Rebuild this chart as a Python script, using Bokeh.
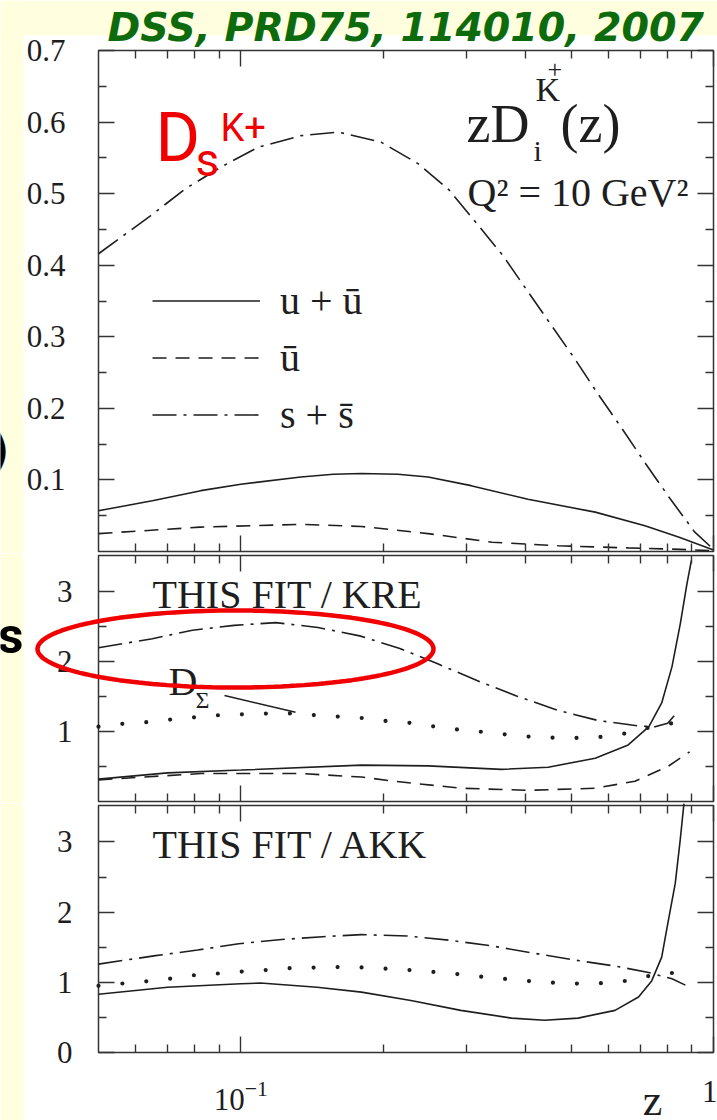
import math
from bokeh.plotting import figure
from bokeh.layouts import column
from bokeh.models import (Range1d, LogAxis, LinearAxis, FixedTicker, Label,
                          Legend, LegendItem, PolyAnnotation, BoxAnnotation)
from bokeh.embed import file_html
from bokeh.resources import INLINE

# ---------------- top panel: z D_i^{K+}(z), Q^2 = 10 GeV^2 ----------------
z_uu_top = [0.05, 0.065, 0.0823, 0.1, 0.134, 0.157, 0.18, 0.215, 0.249, 0.307,
            0.405, 0.562, 0.716, 0.846, 1.0]
uu_top = [0.057, 0.071, 0.085, 0.094, 0.104, 0.108, 0.109, 0.108, 0.104, 0.092,
          0.073, 0.055, 0.036, 0.020, 0.002]

z_ub_top = [0.05, 0.082, 0.134, 0.18, 0.249, 0.34, 0.47, 0.66, 0.85, 1.0]
ub_top = [0.025, 0.034, 0.038, 0.035, 0.025, 0.013, 0.008, 0.005, 0.003, 0.001]

z_ss_top = [0.05, 0.0644, 0.0764, 0.0907, 0.109, 0.134, 0.161, 0.198, 0.237,
            0.276, 0.315, 0.359, 0.403, 0.453, 0.509, 0.571, 0.640, 0.718,
            0.809, 0.913, 1.0]
ss_top = [0.416, 0.469, 0.507, 0.537, 0.565, 0.581, 0.586, 0.572, 0.542, 0.505,
          0.459, 0.413, 0.365, 0.317, 0.269, 0.219, 0.172, 0.123, 0.074, 0.027,
          0.003]

# ---------------- middle panel: ratio THIS FIT / KRE ----------------
z_uu_kre = [0.05, 0.070, 0.1, 0.18, 0.249, 0.356, 0.447, 0.562, 0.660, 0.730,
            0.777, 0.817, 0.851, 0.879, 0.898]
uu_kre = [0.32, 0.41, 0.45, 0.52, 0.51, 0.46, 0.49, 0.62, 0.81, 1.07, 1.41,
          1.93, 2.55, 3.12, 3.45]

z_ub_kre = [0.05, 0.0823, 0.134, 0.18, 0.211, 0.292, 0.405, 0.562, 0.682, 0.80,
            0.89]
ub_kre = [0.31, 0.40, 0.40, 0.35, 0.29, 0.19, 0.16, 0.19, 0.29, 0.50, 0.71]

z_ss_kre = [0.05, 0.065, 0.079, 0.0968, 0.1186, 0.1456, 0.1784, 0.217, 0.261,
            0.316, 0.383, 0.466, 0.569, 0.694, 0.752, 0.80, 0.829]
ss_kre = [2.20, 2.33, 2.45, 2.52, 2.56, 2.49, 2.37, 2.19, 1.97, 1.73, 1.51,
          1.31, 1.16, 1.08, 1.07, 1.12, 1.24]

z_sig_kre = [0.05, 0.0575, 0.0647, 0.0725, 0.0813, 0.0917, 0.1033, 0.1162,
             0.1308, 0.1466, 0.1648, 0.1856, 0.2087, 0.2342, 0.2633, 0.2960,
             0.3322, 0.3736, 0.4201, 0.4716, 0.5302, 0.5961, 0.6709, 0.740,
             0.85]
sig_kre = [1.07, 1.12, 1.14, 1.18, 1.21, 1.24, 1.25, 1.26, 1.26, 1.23, 1.21,
           1.19, 1.14, 1.12, 1.06, 1.02, 0.99, 0.95, 0.92, 0.91, 0.91, 0.93,
           0.99, 1.07, 1.14]

# ---------------- bottom panel: ratio THIS FIT / AKK ----------------
z_uu_akk = [0.05, 0.07, 0.1, 0.11, 0.145, 0.18, 0.229, 0.292, 0.374, 0.439,
            0.517, 0.619, 0.694, 0.740, 0.777, 0.80, 0.83, 0.85, 0.866]
uu_akk = [0.83, 0.93, 0.98, 0.99, 0.93, 0.86, 0.74, 0.60, 0.49, 0.46, 0.49,
          0.60, 0.79, 1.02, 1.36, 1.83, 2.41, 3.02, 3.55]

z_ss_akk = [0.05, 0.066, 0.081, 0.099, 0.122, 0.149, 0.18, 0.225, 0.276, 0.339,
            0.413, 0.506, 0.621, 0.729, 0.817, 0.872]
ss_akk = [1.26, 1.38, 1.46, 1.55, 1.61, 1.65, 1.68, 1.66, 1.60, 1.52, 1.42,
          1.32, 1.23, 1.14, 1.05, 0.96]

z_sig_akk = [0.05, 0.0575, 0.0647, 0.0725, 0.0813, 0.0917, 0.1033, 0.1162,
             0.1308, 0.1466, 0.1648, 0.1856, 0.2087, 0.2342, 0.2633, 0.2960,
             0.3322, 0.3736, 0.4201, 0.4716, 0.5302, 0.5961, 0.6709, 0.758,
             0.85]
sig_akk = [0.95, 0.99, 1.02, 1.06, 1.11, 1.13, 1.16, 1.18, 1.21, 1.21, 1.22,
           1.21, 1.19, 1.17, 1.14, 1.11, 1.07, 1.04, 1.01, 0.99, 0.98, 0.99,
           1.03, 1.12, 1.14]

# ---------------- axes ----------------
x_major = [0.1, 1]
x_minor = [0.06, 0.07, 0.08, 0.09, 0.2, 0.3, 0.4, 0.5, 0.6, 0.7, 0.8, 0.9]
y_top_major = [0.1, 0.2, 0.3, 0.4, 0.5, 0.6, 0.7]
y_top_minor = [0.05, 0.15, 0.25, 0.35, 0.45, 0.55, 0.65]
y_mid_major = [1, 2, 3]
y_bot_major = [0, 1, 2, 3]
y_ratio_minor = [0.5, 1.5, 2.5]
legend_labels = ["u + ū", "ū", "s + s̄"]

SERIF = "Liberation Serif"
INK = "#1e1e1e"
AXC = "#333333"
RED = "#f00000"
GREEN = "#0d6b0d"
CREAM = "#FFFFDF"
SOLID = dict(line_color=INK, line_width=1.6)
DASHED = dict(line_color=INK, line_width=1.6, line_dash="14 9")
DASHDOT = dict(line_color=INK, line_width=1.6, line_dash="24 7 3 7")
DOTTED = dict(line_color=INK, line_width=4.2, line_dash="0 24", line_cap="round")

Z_MIN, Z_MAX = 0.05, 1.0
BOX_L, BOX_R = 98, 713          # pixel columns of the plot box
PX_DEC = (BOX_R - BOX_L) / math.log10(Z_MAX / Z_MIN)
TOP_MAX = 0.7
R_MAX = 3.52
DROP = 0.4   # labels sit about 0.4 em lower than the requested baseline


def z_at(px):
    return Z_MIN * 10 ** ((px - BOX_L) / PX_DEC)


def v_top(py):
    return (551 - py) / 501 * TOP_MAX


def v_mid(py):
    return (801 - py) / 246 * R_MAX


def v_bot(py):
    return (1052 - py) / 247 * R_MAX


def style_axis(ax, ticks, minor, where, labels=False, standoff=0):
    ax.fixed_location = where
    ax.ticker = FixedTicker(ticks=ticks, minor_ticks=minor)
    ax.axis_line_color = None
    ax.major_tick_line_color = AXC
    ax.major_tick_line_width = 1.4
    ax.minor_tick_line_color = AXC
    ax.minor_tick_line_width = 1.4
    ax.major_tick_in = 16
    ax.major_tick_out = 0
    ax.minor_tick_in = 8
    ax.minor_tick_out = 0
    if labels:
        ax.major_label_text_font = SERIF
        ax.major_label_text_font_size = "31px"
        ax.major_label_text_color = INK
        ax.major_label_standoff = standoff
    else:
        # tick marks only, no numbers on this side
        ax.major_label_overrides = {t: "" for t in ticks}
        ax.major_label_text_font_size = "1px"
        ax.major_label_standoff = 0


def make_panel(height, vmap, y_canvas_top, y_canvas_bottom, box_top,
               yticks, yminor, y_standoff, x_labels):
    p = figure(width=717, height=height, x_axis_type="log",
               x_range=Range1d(z_at(0), z_at(717)),
               y_range=Range1d(vmap(y_canvas_bottom), vmap(y_canvas_top)),
               output_backend="svg", toolbar_location=None,
               min_border_left=0, min_border_right=0,
               min_border_top=0, min_border_bottom=0,
               border_fill_color=None, background_fill_color="white",
               outline_line_color=None)
    p.xgrid.visible = False
    p.ygrid.visible = False
    p.add_layout(LogAxis(), "above")
    p.add_layout(LinearAxis(), "right")
    for ax in p.below:
        style_axis(ax, x_major, x_minor, 0, x_labels, 28)
    for ax in p.above:
        style_axis(ax, x_major, x_minor, box_top)
    for ax in p.left:
        style_axis(ax, yticks, yminor, Z_MIN, True, y_standoff)
    for ax in p.right:
        style_axis(ax, yticks, yminor, Z_MAX)
    # cream margin strip on the far left of the page
    p.add_layout(BoxAnnotation(left=z_at(0), right=z_at(23),
                               bottom=vmap(y_canvas_bottom), top=vmap(y_canvas_top),
                               fill_color=CREAM, fill_alpha=1.0, line_alpha=0,
                               level="underlay"))
    # plot box
    p.quad(left=[Z_MIN], right=[Z_MAX], bottom=[0], top=[box_top],
           fill_color=None, line_color=AXC, line_width=1.5)
    return p


def put(p, vmap, px, py, text, size, font=SERIF, color=INK, style="normal",
        align="left", drop=DROP):
    p.add_layout(Label(x=z_at(px), y=vmap(py - drop * size), text=text,
                       text_font=font, text_font_size=f"{size}px",
                       text_color=color, text_font_style=style,
                       text_align=align, text_baseline="alphabetic"))


# ---------------- top panel ----------------
p1 = make_panel(553, v_top, 0, 553, TOP_MAX, y_top_major, y_top_minor,
                33, False)
# cream band behind the heading
p1.add_layout(BoxAnnotation(left=z_at(0), right=z_at(717),
                            bottom=v_top(35), top=v_top(0),
                            fill_color=CREAM, fill_alpha=1.0, line_alpha=0,
                            level="underlay"))
put(p1, v_top, 107, 36, "DSS, PRD75, 114010, 2007", 39.5, font="DejaVu Sans",
    color=GREEN, style="bold italic", drop=0.25)

r_uu = p1.line(z_uu_top, uu_top, **SOLID)
r_ub = p1.line(z_ub_top, ub_top, **DASHED)
r_ss = p1.line(z_ss_top, ss_top, **DASHDOT)

legend = Legend(items=[LegendItem(label=legend_labels[0], renderers=[r_uu]),
                       LegendItem(label=legend_labels[1], renderers=[r_ub]),
                       LegendItem(label=legend_labels[2], renderers=[r_ss])],
                location=(152, 110), glyph_width=108, glyph_height=57,
                label_height=57, label_standoff=20, spacing=0, padding=0,
                margin=0, label_text_font=SERIF, label_text_font_size="40px",
                label_text_color=INK, background_fill_alpha=0,
                border_line_alpha=0)
p1.add_layout(legend)

put(p1, v_top, 9, 468, ")", 46, font="DejaVu Sans", color="black",
    style="bold", align="right")

put(p1, v_top, 155, 165, "D", 68, font="Roboto", color=RED)
put(p1, v_top, 195, 178, "s", 46, font="Roboto", color=RED)
put(p1, v_top, 220, 143, "K+", 38, font="Roboto", color=RED)

put(p1, v_top, 466, 145, "zD", 54)
put(p1, v_top, 533, 162, "i", 30)
put(p1, v_top, 535, 103, "K", 34)
put(p1, v_top, 547, 79, "+", 26)
put(p1, v_top, 560, 145, "(z)", 54)
put(p1, v_top, 467, 208, "Q² = 10 GeV²", 40)

# ---------------- middle panel ----------------
p2 = make_panel(250, v_mid, 553, 803, R_MAX, y_mid_major, y_ratio_minor,
                26, False)
p2.line(z_uu_kre, uu_kre, **SOLID)
p2.line(z_ub_kre, ub_kre, **DASHED)
p2.line(z_ss_kre, ss_kre, **DASHDOT)
p2.line(z_sig_kre, sig_kre, **DOTTED)

put(p2, v_mid, 152, 610, "THIS FIT / KRE", 40)
put(p2, v_mid, 168, 697, "D", 40)
put(p2, v_mid, 195, 709, "Σ", 24)
p2.line([z_at(224), z_at(295)], [v_mid(695), v_mid(711.7)],
        line_color=INK, line_width=1.5)
put(p2, v_mid, 23, 655, "s", 50, font="Roboto", color="black",
    style="bold", align="right")

theta = [i * 2 * math.pi / 160 for i in range(161)]
lz_c = math.log10(z_at(235))
a_dec = 198 / PX_DEC
v_c = v_mid(648.5)
b_val = 38.5 / 246 * R_MAX
p2.add_layout(PolyAnnotation(
    xs=[10 ** (lz_c + a_dec * math.cos(t)) for t in theta],
    ys=[v_c + b_val * math.sin(t) for t in theta],
    fill_alpha=0, line_color=RED, line_alpha=1.0, line_width=4.5,
    level="overlay"))

# ---------------- bottom panel ----------------
p3 = make_panel(317, v_bot, 803, 1120, R_MAX, y_bot_major, y_ratio_minor,
                26, True)
p3.below[0].major_label_overrides = {1: "1"}
p3.line(z_uu_akk, uu_akk, **SOLID)
p3.line(z_ss_akk, ss_akk, **DASHDOT)
p3.line(z_sig_akk, sig_akk, **DOTTED)

put(p3, v_bot, 152, 860, "THIS FIT / AKK", 40)
put(p3, v_bot, 652, 1118, "z", 44, align="center")

page = column(p1, p2, p3, spacing=0, styles={"background": "#FFFFFF"})

open("out.html", "w").write(file_html(page, INLINE))
